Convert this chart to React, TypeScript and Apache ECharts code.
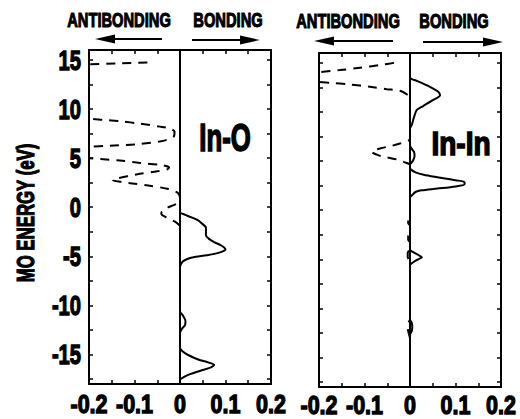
import React, { useEffect, useRef } from "react";
import * as echarts from "echarts";

// ---- axis ranges & ticks ----
const energyMin = -18;
const energyMax = 16;
const coopMin = -0.2;
const coopMax = 0.2;
const energyTickLabels = [-15, -10, -5, 0, 5, 10, 15];
const energyTicks = [-17.5, -15, -12.5, -10, -7.5, -5, -2.5, 0, 2.5, 5, 7.5, 10, 12.5, 15];
const coopTickLabels = [-0.2, -0.1, 0, 0.1, 0.2];
const coopTicks = [-0.15, -0.1, -0.05, 0, 0.05, 0.1, 0.15];

// ---- texts ----
const panelTitles = ["In-O", "In-In"];
const headerLabels = ["ANTIBONDING", "BONDING"];
const yAxisTitle = "MO ENERGY (eV)";

// ---- data: [COOP, energy (eV)] ----
const inOBonding: [number, number][] = [
  [0, -18], [0, -17.6], [0.008, -17.3], [0.022, -17.0], [0.045, -16.65], [0.068, -16.3],
  [0.075, -16.05], [0.062, -15.8], [0.04, -15.5], [0.02, -15.1], [0.006, -14.7], [0, -14.3],
  [0, -12.8], [0.004, -12.4], [0.011, -12.0], [0.012, -11.6], [0.006, -11.0], [0, -10.6],
  [0, -6.1], [0.002, -5.8], [0.007, -5.5], [0.022, -5.18], [0.035, -5.05], [0.059, -4.9],
  [0.08, -4.7], [0.094, -4.5], [0.1, -4.3], [0.097, -4.1], [0.088, -3.84], [0.075, -3.55],
  [0.063, -3.2], [0.057, -2.85], [0.057, -2.5], [0.057, -2.1], [0.048, -1.65], [0.038, -1.3],
  [0.022, -0.98], [0.01, -0.75], [0, -0.5], [0, 16],
];

const inOAntibonding: [number, number][] = [
  [0, -1.9], [-0.011, -1.48], [-0.03, -1.04], [-0.041, -0.7], [-0.04, -0.45], [-0.03, -0.1],
  [-0.014, 0.2], [-0.003, 0.5], [0, 0.9], [-0.002, 1.3], [-0.008, 1.55], [-0.028, 1.88],
  [-0.07, 2.2], [-0.105, 2.42], [-0.13, 2.58], [-0.148, 2.75], [-0.14, 2.9], [-0.115, 3.16],
  [-0.088, 3.4], [-0.05, 3.65], [-0.028, 3.85], [-0.024, 4.05], [-0.044, 4.3], [-0.088, 4.5],
  [-0.132, 4.75], [-0.175, 4.9], [-0.2, 4.97], [-0.32, 5.1], [-0.32, 6.05], [-0.2, 6.16],
  [-0.154, 6.26], [-0.088, 6.43], [-0.045, 6.68], [-0.026, 6.9], [-0.013, 7.25], [-0.012, 7.7],
  [-0.022, 8.0], [-0.044, 8.2], [-0.088, 8.5], [-0.13, 8.75], [-0.171, 8.9], [-0.2, 9.0],
  [-0.32, 9.1], [-0.32, 14.4], [-0.2, 14.55], [-0.13, 14.65], [-0.062, 14.75],
];

const inInBonding: [number, number][] = [
  [0, -18], [0, -12.7], [0.004, -12.3], [0.005, -11.9], [0.004, -11.5], [0, -11.1],
  [0, -5.6], [0.007, -5.3], [0.018, -5.0], [0.026, -4.78], [0.02, -4.6], [0.008, -4.3], [0, -4.0],
  [0, 1.3], [0.005, 1.55], [0.012, 1.85], [0.025, 2.02], [0.06, 2.2], [0.1, 2.42], [0.12, 2.65],
  [0.12, 2.85], [0.1, 3.05], [0.06, 3.35], [0.03, 3.6], [0.012, 3.85], [0.003, 4.1], [0, 4.3],
  [0, 4.6], [0.006, 5.0], [0.01, 5.5], [0.009, 5.9], [0.003, 6.3], [0, 6.6],
  [0, 8.3], [0.004, 8.7], [0.009, 9.5], [0.015, 10.2], [0.029, 10.6], [0.05, 11.2],
  [0.066, 11.7], [0.062, 12.05], [0.044, 12.56], [0.015, 13.17], [0.004, 13.35], [0, 13.5], [0, 16],
];

const inInAntibonding: [number, number][] = [
  [0, -13], [-0.004, -12.3], [-0.005, -11.9], [-0.004, -11.5], [0, -11.1],
  [0, -5.2], [-0.005, -4.8], [-0.005, -4.3], [0, -4.0], [0, -3.3], [-0.004, -3.0], [-0.004, -2.6],
  [0, -2.3], [0, -1.6], [-0.004, -1.3], [-0.004, -0.8], [0, -0.5],
  [0, 4.6], [-0.011, 4.86], [-0.029, 5.16], [-0.051, 5.37], [-0.07, 5.6], [-0.084, 5.94],
  [-0.066, 6.28], [-0.04, 6.55], [-0.022, 6.79], [-0.004, 7.06], [0, 7.3],
  [0, 11.5], [-0.004, 11.7], [-0.022, 12.15], [-0.051, 12.32], [-0.088, 12.56], [-0.132, 12.8],
  [-0.176, 12.96], [-0.2, 13.05], [-0.32, 13.3], [-0.32, 13.9], [-0.2, 14.06], [-0.154, 14.26],
  [-0.11, 14.5], [-0.066, 14.77], [-0.029, 15.04],
];

const BOLD = "'Liberation Sans', Arial, sans-serif";

function heavyText(x: number, y: number, text: string, fontSize: number, scaleX: number, weight: number, align = "center", extra: any = {}) {
  return {
    type: "text",
    x,
    y,
    scaleX,
    ...extra,
    style: {
      text,
      fontFamily: BOLD,
      fontWeight: "bold",
      fontSize,
      fill: "#000",
      stroke: "#000",
      lineWidth: weight,
      align,
      verticalAlign: "middle",
    },
  };
}

function xAxes(grid: number) {
  const common = {
    gridIndex: grid,
    type: "value" as const,
    min: coopMin,
    max: coopMax,
    splitLine: { show: false },
    axisLabel: { show: false },
    axisLine: { onZero: false, lineStyle: { color: "#000", width: 2 } },
    axisTick: { inside: true, length: 4, customValues: coopTicks, lineStyle: { color: "#000", width: 1.5 } },
  };
  return [
    { ...common, position: "bottom" },
    { ...common, position: "top" },
  ];
}

function yAxes(grid: number) {
  const common = {
    gridIndex: grid,
    type: "value" as const,
    min: energyMin,
    max: energyMax,
    splitLine: { show: false },
    axisLabel: { show: false },
    axisLine: { onZero: false, lineStyle: { color: "#000", width: 2 } },
    axisTick: { inside: true, length: 4, customValues: energyTicks, lineStyle: { color: "#000", width: 1.5 } },
  };
  return [
    { ...common, position: "left" },
    { ...common, position: "right" },
  ];
}

function curve(data: [number, number][], axis: number, dashed: boolean, zeroLine: boolean) {
  const s: any = {
    type: "line",
    xAxisIndex: axis,
    yAxisIndex: axis,
    data,
    symbol: "none",
    smooth: 0.3,
    clip: true,
    lineStyle: { color: "#000", width: 2, type: dashed ? [9, 7] : "solid" },
    z: 3,
  };
  if (zeroLine) {
    s.markLine = {
      silent: true,
      symbol: ["none", "none"],
      label: { show: false },
      lineStyle: { color: "#000", width: 2, type: "solid" },
      data: [{ xAxis: 0 }],
    };
  }
  return s;
}

function arrow(x1: number, x2: number, y: number, tipLeft: boolean) {
  const tip = tipLeft ? x1 : x2;
  const base = tipLeft ? x1 + 20 : x2 - 20;
  return [
    { type: "line", shape: { x1: tipLeft ? x1 + 10 : x1, y1: y, x2: tipLeft ? x2 : x2 - 10, y2: y }, style: { stroke: "#000", lineWidth: 2 } },
    { type: "polygon", shape: { points: [[tip, y], [base, y - 4.5], [base, y + 4.5]] }, style: { fill: "#000" } },
  ];
}

export default function App() {
  const ref = useRef<HTMLDivElement>(null);
  useEffect(() => {
    if (!ref.current) return;
    const chart = echarts.init(ref.current, null, { renderer: "svg" });
    const staticGraphics: any[] = [
      heavyText(119, 20, headerLabels[0], 21, 0.7, 1.1),
      heavyText(228, 20, headerLabels[1], 21, 0.7, 1.1),
      heavyText(348, 21, headerLabels[0], 21, 0.7, 1.1),
      heavyText(454, 21, headerLabels[1], 21, 0.7, 1.1),
      ...arrow(95, 162, 39, true),
      ...arrow(192, 260, 40, false),
      ...arrow(314, 393, 41, true),
      ...arrow(423, 503, 42, false),
      heavyText(225, 137, panelTitles[0], 39, 0.66, 1.6),
      heavyText(461, 143, panelTitles[1], 33, 0.85, 1.5),
      heavyText(25, 213, yAxisTitle, 24, 0.7, 1.2, "center", { rotation: Math.PI / 2 }),
    ];
    chart.setOption({
      animation: false,
      backgroundColor: "#fff",
      grid: [
        { left: 89, top: 50, width: 182, height: 334 },
        { left: 319, top: 53, width: 182, height: 334 },
      ],
      xAxis: [...xAxes(0), ...xAxes(1)],
      yAxis: [...yAxes(0), ...yAxes(1)],
      series: [
        curve(inOBonding, 0, false, true),
        curve(inOAntibonding, 0, true, false),
        curve(inInBonding, 2, false, true),
        curve(inInAntibonding, 2, true, false),
      ],
      graphic: staticGraphics,
    });

    // tick labels placed through the axes' own scales
    const labelGraphics: any[] = [];
    [0, 2].forEach((axisIndex) => {
      coopTickLabels.forEach((v) => {
        const px = chart.convertToPixel({ xAxisIndex: axisIndex }, v) as number;
        const txt = Math.abs(v) < 1e-9 ? "0" : v.toFixed(1);
        labelGraphics.push(heavyText(px, axisIndex === 0 ? 404 : 405, txt, 25, 0.86, 1.3));
      });
    });
    energyTickLabels.forEach((v) => {
      const py = chart.convertToPixel({ yAxisIndex: 0 }, v) as number;
      labelGraphics.push(heavyText(81, py, String(v), 28, 0.72, 1.3, "right"));
    });
    chart.setOption({ graphic: [...staticGraphics, ...labelGraphics] });

    return () => chart.dispose();
  }, []);
  return <div ref={ref} style={{ position: "fixed", left: 0, top: 0, width: 520, height: 419 }} />;
}
